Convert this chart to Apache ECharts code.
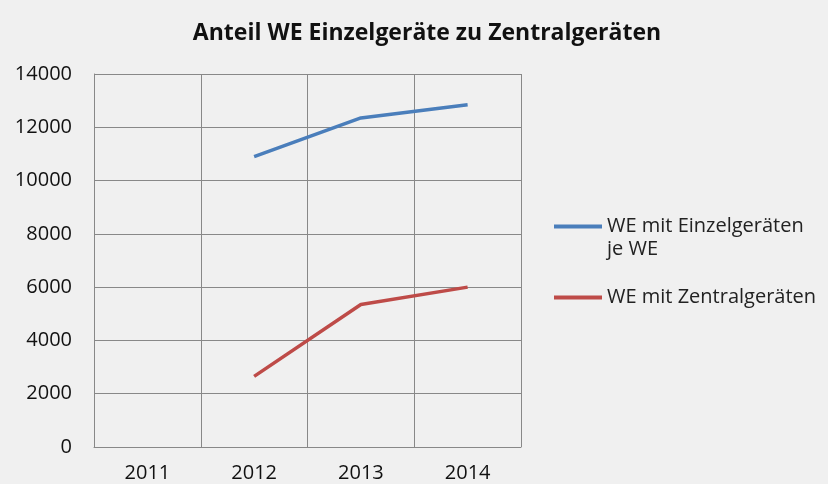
<!DOCTYPE html>
<html>
<head>
<meta charset="utf-8">
<script src="https://cdn.jsdelivr.net/npm/echarts@6/dist/echarts.min.js"></script>
<style>
    html, body { margin: 0; padding: 0; background: #f0f0f0; }
    #main { width: 828px; height: 484px; }
</style>
</head>
<body>
<div id="main"></div>
<script>
// Kategorien (Jahre)
const years = ['2011', '2012', '2013', '2014'];
// Werte je Serie, 2011 ohne Daten
const einzelValues = [null, 10900, 12350, 12850];
const zentralValues = [null, 2650, 5350, 6000];
const seriesNames = ['WE mit Einzelgeräten je WE', 'WE mit Zentralgeräten'];
// Legendentexte (erste Leerzeile, damit die Linie auf Höhe der ersten Textzeile sitzt)
const legendLabels = [' \nWE mit Einzelgeräten\nje WE', 'WE mit Zentralgeräten'];

const fontFamily = '"Open Sans", "Noto Sans", sans-serif';

const chart = echarts.init(document.getElementById('main'), null, { renderer: 'canvas' });

chart.setOption({
    backgroundColor: '#f0f0f0',
    animation: false,
    title: {
        text: 'Anteil WE Einzelgeräte zu Zentralgeräten',
        left: 422,
        textAlign: 'center',
        top: 17,
        textStyle: { color: '#111', fontSize: 23, fontWeight: 'bold', fontFamily: fontFamily }
    },
    legend: {
        orient: 'vertical',
        left: 554,
        top: 192,
        padding: 0,
        icon: 'rect',
        itemWidth: 48,
        itemHeight: 4,
        itemGap: 25,
        data: seriesNames,
        formatter: function (name) { return legendLabels[seriesNames.indexOf(name)]; },
        textStyle: { color: '#222', fontSize: 20, fontFamily: fontFamily, lineHeight: 23 }
    },
    grid: { left: 94, right: 307, top: 74, bottom: 37, containLabel: false },
    xAxis: {
        type: 'category',
        data: years,
        boundaryGap: true,
        axisLine: { lineStyle: { color: '#888', width: 1 } },
        axisTick: { show: false },
        splitLine: { show: true, lineStyle: { color: '#888', width: 1 } },
        axisLabel: { color: '#111', fontSize: 20, margin: 16, fontFamily: fontFamily, interval: 0 }
    },
    yAxis: {
        type: 'value',
        min: 0,
        max: 14000,
        interval: 2000,
        axisLine: { show: true, lineStyle: { color: '#888', width: 1 } },
        axisTick: { show: false },
        splitLine: { lineStyle: { color: '#888', width: 1 } },
        axisLabel: { color: '#111', fontSize: 20, margin: 22, fontFamily: fontFamily, formatter: function (v) { return String(v); } }
    },
    series: [
        {
            name: seriesNames[0],
            type: 'line',
            data: einzelValues,
            showSymbol: false,
            connectNulls: false,
            color: '#4a7ebb',
            lineStyle: { width: 3.5, color: '#4a7ebb' }
        },
        {
            name: seriesNames[1],
            type: 'line',
            data: zentralValues,
            showSymbol: false,
            connectNulls: false,
            color: '#be4b48',
            lineStyle: { width: 3.5, color: '#be4b48' }
        }
    ]
});
</script>
</body>
</html>
